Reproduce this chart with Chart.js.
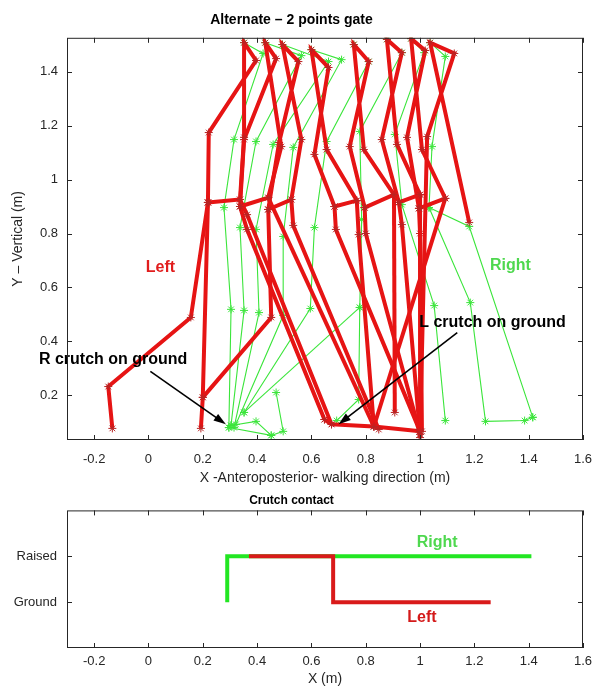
<!DOCTYPE html>
<html>
<head>
<meta charset="utf-8">
<script src="https://cdn.jsdelivr.net/npm/chart.js@4.4.0/dist/chart.umd.min.js"></script>
<style>
  html, body { margin: 0; padding: 0; background: #fff; }
  canvas { display: block; }
</style>
</head>
<body>
<canvas id="gaitChart" width="595" height="492"></canvas>
<canvas id="contactChart" width="595" height="196"></canvas>
<script>
// Stick figure frames (x, y in metres)
const leftLoops = [
  [[0.219,0.915],[0.222,1.174],[0.396,1.441],[0.352,1.507],[0.352,1.156],[0.337,0.926],[0.219,0.915]],
  [[0.337,0.900],[0.352,1.148],[0.470,1.448],[0.430,1.507],[0.489,1.122],[0.441,0.933],[0.337,0.900]],
  [[0.441,0.889],[0.481,1.137],[0.552,1.437],[0.493,1.500],[0.563,1.148],[0.526,0.926],[0.441,0.889]],
  [[0.685,0.900],[0.611,1.093],[0.663,1.415],[0.600,1.481],[0.656,1.111],[0.767,0.922],[0.685,0.900]],
  [[0.796,0.896],[0.741,1.122],[0.811,1.437],[0.756,1.500],[0.793,1.111],[0.904,0.944],[0.796,0.896]],
  [[0.922,0.915],[0.859,1.148],[0.933,1.470],[0.878,1.519],[0.915,1.130],[1.000,0.944],[0.922,0.915]],
  [[0.996,0.893],[0.952,1.156],[1.019,1.478],[0.967,1.522],[1.007,1.111],[1.093,0.930],[0.996,0.893]],
  [[1.000,0.067],[1.026,1.159],[1.126,1.467],[1.037,1.507],[1.181,0.841]]
];
const leftLegs = [
  [[-0.133,0.078],[-0.148,0.233],[0.156,0.489],[0.219,0.915]],
  [[0.193,0.078],[0.200,0.193],[0.219,0.915]],
  [[0.200,0.193],[0.452,0.489],[0.441,0.889]],
  [[0.337,0.926],[0.363,0.870],[0.674,0.093]],
  [[0.337,0.900],[0.363,0.815],[0.648,0.111]],
  [[0.441,0.933],[0.830,0.085]],
  [[0.526,0.926],[0.533,0.830],[0.848,0.074]],
  [[0.685,0.900],[0.690,0.815],[1.000,0.067]],
  [[0.767,0.922],[0.774,0.796],[0.830,0.085]],
  [[0.796,0.896],[0.800,0.800],[0.996,0.074]],
  [[0.904,0.944],[0.907,0.137]],
  [[0.922,0.915],[0.933,0.833],[1.000,0.056]],
  [[1.000,0.944],[1.000,0.044]],
  [[0.996,0.893],[1.000,0.800],[1.007,0.067]],
  [[1.093,0.930],[0.830,0.085]],
  [[0.648,0.111],[0.674,0.093],[0.830,0.085],[1.000,0.067]]
];
const rightBody = [
  [[0.352,1.507],[0.422,1.467],[0.315,1.148],[0.278,0.896],[0.304,0.519],[0.296,0.081]],
  [[0.430,1.507],[0.563,1.459],[0.396,1.141],[0.337,0.822],[0.352,0.515],[0.304,0.089]],
  [[0.493,1.500],[0.663,1.437],[0.459,1.130],[0.396,0.815],[0.407,0.507],[0.315,0.081]],
  [[0.600,1.481],[0.711,1.444],[0.533,1.119],[0.496,0.789],[0.496,0.496],[0.322,0.093]],
  [[0.756,1.500],[0.811,1.437],[0.656,1.141],[0.611,0.822],[0.596,0.522],[0.352,0.137]],
  [[0.878,1.519],[0.933,1.470],[0.778,1.178],[0.785,0.852],[0.778,0.526],[0.774,0.185],[0.693,0.107]],
  [[0.967,1.522],[1.015,1.470],[0.907,1.167],[0.933,0.907],[1.052,0.533],[1.093,0.107]],
  [[1.037,1.507],[1.093,1.456],[1.044,1.122],[1.033,0.896],[1.185,0.544],[1.241,0.104],[1.385,0.107],[1.415,0.119]]
];
const rightFeet = [
  [[1.033,0.896],[1.181,0.826],[1.415,0.119]],
  [[0.296,0.081],[0.452,0.052],[0.496,0.067],[0.470,0.211]],
  [[0.304,0.089],[0.396,0.104],[0.452,0.052]],
  [[0.352,0.137],[0.778,0.526]]
];

const xTicks = [-0.2, 0, 0.2, 0.4, 0.6, 0.8, 1, 1.2, 1.4, 1.6];
const yTicks = [0.2, 0.4, 0.6, 0.8, 1, 1.2, 1.4];

// Crutch contact (0 = Ground, 1 = Raised)
const contactTicks = [0, 1];
const contactLabels = ['Ground', 'Raised'];
const rightContactX = [0.29, 0.29, 1.41];
const rightContactY = [0, 1, 1];
const leftContactX = [0.37, 0.68, 0.68, 1.26];
const leftContactY = [1, 1, 0, 0];

const RED = '#e61414';
const RED_STAR = '#b82424';
const GREEN = '#3be53b';
const FONT = "'Liberation Sans', Arial, sans-serif";
const INK = '#262626';

const gaitNotes = [
  { text: 'Left', x: 0.044, y: 0.674, color: '#e11d1d', size: 16 },
  { text: 'Right', x: 1.333, y: 0.681, color: '#4fd84f', size: 16 },
  { text: 'R crutch on ground', x: -0.13, y: 0.333, color: '#000', size: 16 },
  { text: 'L crutch on ground', x: 1.267, y: 0.470, color: '#000', size: 16 }
];
const gaitArrows = [
  { from: [0.007, 0.289], to: [0.285, 0.093] },
  { from: [1.137, 0.433], to: [0.700, 0.093] }
];
const contactNotes = [
  { text: 'Right', x: 1.063, y: 1.30, color: '#4fd84f', size: 16 },
  { text: 'Left', x: 1.007, y: -0.34, color: '#d41a1a', size: 16 }
];

const toPoints = path => path.map(p => ({ x: p[0], y: p[1] }));

function pathSet(path, color, width, starColor) {
  return {
    data: toPoints(path),
    showLine: true,
    borderColor: color,
    borderWidth: width,
    pointStyle: 'star',
    pointRadius: 4,
    pointBorderWidth: 1,
    pointBorderColor: starColor,
    pointBackgroundColor: starColor,
    fill: false
  };
}

// MATLAB-like box with inward ticks on every side
const frameBox = {
  id: 'frameBox',
  afterDraw(chart, args, opts) {
    const { ctx, chartArea: a, scales: { x, y } } = chart;
    const len = opts.len || 5;
    ctx.save();
    ctx.strokeStyle = INK;
    ctx.lineWidth = 1;
    ctx.strokeRect(a.left + 0.5, a.top + 0.5, a.right - a.left - 1, a.bottom - a.top - 1);
    ctx.beginPath();
    x.ticks.forEach(t => {
      const px = Math.round(x.getPixelForValue(t.value)) + 0.5;
      ctx.moveTo(px, a.bottom); ctx.lineTo(px, a.bottom - len);
      ctx.moveTo(px, a.top); ctx.lineTo(px, a.top + len);
    });
    y.ticks.forEach(t => {
      const py = Math.round(y.getPixelForValue(t.value)) + 0.5;
      ctx.moveTo(a.left, py); ctx.lineTo(a.left + len, py);
      ctx.moveTo(a.right, py); ctx.lineTo(a.right - len, py);
    });
    ctx.stroke();
    ctx.restore();
  }
};

// Text labels and arrows placed in data coordinates
const notes = {
  id: 'notes',
  afterDatasetsDraw(chart, args, opts) {
    const { ctx, scales: { x, y } } = chart;
    ctx.save();
    (opts.arrows || []).forEach(ar => {
      const x0 = x.getPixelForValue(ar.from[0]), y0 = y.getPixelForValue(ar.from[1]);
      const x1 = x.getPixelForValue(ar.to[0]), y1 = y.getPixelForValue(ar.to[1]);
      const ang = Math.atan2(y1 - y0, x1 - x0);
      const head = 13;
      ctx.strokeStyle = '#000';
      ctx.fillStyle = '#000';
      ctx.lineWidth = 1.6;
      ctx.beginPath();
      ctx.moveTo(x0, y0);
      ctx.lineTo(x1 - Math.cos(ang) * head * 0.8, y1 - Math.sin(ang) * head * 0.8);
      ctx.stroke();
      ctx.beginPath();
      ctx.moveTo(x1, y1);
      ctx.lineTo(x1 - head * Math.cos(ang - 0.32), y1 - head * Math.sin(ang - 0.32));
      ctx.lineTo(x1 - head * Math.cos(ang + 0.32), y1 - head * Math.sin(ang + 0.32));
      ctx.closePath();
      ctx.fill();
    });
    (opts.labels || []).forEach(n => {
      ctx.font = `bold ${n.size}px ${FONT}`;
      ctx.fillStyle = n.color;
      ctx.textAlign = 'center';
      ctx.textBaseline = 'middle';
      ctx.fillText(n.text, x.getPixelForValue(n.x), y.getPixelForValue(n.y));
    });
    ctx.restore();
  }
};

const tickFmt = v => String(Math.round(v * 10) / 10);
// grid hidden, but tickLength still spaces the labels off the box
const gap = len => ({ display: false, drawTicks: true, tickLength: len });

const gaitSets = [
  ...leftLoops.map(p => pathSet(p, RED, 4, RED_STAR)),
  ...leftLegs.map(p => pathSet(p, RED, 4, RED_STAR)),
  ...rightBody.map(p => pathSet(p, GREEN, 1.1, GREEN)),
  ...rightFeet.map(p => pathSet(p, GREEN, 1.1, GREEN))
];

new Chart(document.getElementById('gaitChart'), {
  type: 'scatter',
  data: { datasets: gaitSets },
  options: {
    responsive: false,
    animation: false,
    events: [],
    layout: { padding: { top: 6, right: 12, left: 0, bottom: 0 } },
    plugins: {
      legend: { display: false },
      tooltip: { enabled: false },
      title: {
        display: true,
        text: 'Alternate \u2013 2 points gate',
        color: '#000',
        font: { family: FONT, size: 14, weight: 'bold' },
        padding: { top: 6, bottom: 9 }
      },
      frameBox: { len: 5 },
      notes: { labels: gaitNotes, arrows: gaitArrows }
    },
    scales: {
      x: {
        type: 'linear',
        min: -0.3,
        max: 1.6,
        grid: gap(12),
        border: { display: false },
        afterBuildTicks: s => { s.ticks = xTicks.map(v => ({ value: v })); },
        afterFit: s => { s.height = 52; },
        ticks: { color: INK, padding: 0, maxRotation: 0, font: { family: FONT, size: 13 }, callback: tickFmt },
        title: {
          display: true,
          text: 'X -Anteroposterior- walking direction (m)',
          color: INK,
          font: { family: FONT, size: 14 },
          padding: { top: 0, bottom: 5 }
        }
      },
      y: {
        type: 'linear',
        min: 0.035,
        max: 1.525,
        grid: gap(9),
        border: { display: false },
        afterBuildTicks: s => { s.ticks = yTicks.map(v => ({ value: v })); },
        afterFit: s => { s.width = 67; },
        ticks: { color: INK, padding: 0, font: { family: FONT, size: 13 }, callback: tickFmt },
        title: {
          display: true,
          text: 'Y \u2013 Vertical (m)',
          color: INK,
          font: { family: FONT, size: 14 },
          padding: { top: 10, bottom: 0 }
        }
      }
    }
  },
  plugins: [frameBox, notes]
});

const zip = (xs, ys) => xs.map((v, i) => ({ x: v, y: ys[i] }));

new Chart(document.getElementById('contactChart'), {
  type: 'scatter',
  data: {
    datasets: [
      { data: zip(leftContactX, leftContactY), showLine: true, borderColor: '#d91a1a', borderWidth: 4, pointRadius: 0, fill: false },
      { data: zip(rightContactX, rightContactY), showLine: true, borderColor: '#22e622', borderWidth: 4, pointRadius: 0, fill: false }
    ]
  },
  options: {
    responsive: false,
    animation: false,
    events: [],
    layout: { padding: { top: 1, right: 12, left: 0, bottom: 0 } },
    plugins: {
      legend: { display: false },
      tooltip: { enabled: false },
      title: {
        display: true,
        text: 'Crutch contact',
        color: '#000',
        font: { family: FONT, size: 12, weight: 'bold' },
        padding: { top: 0, bottom: 3 }
      },
      frameBox: { len: 5 },
      notes: { labels: contactNotes }
    },
    scales: {
      x: {
        type: 'linear',
        min: -0.3,
        max: 1.6,
        grid: gap(6),
        border: { display: false },
        afterBuildTicks: s => { s.ticks = xTicks.map(v => ({ value: v })); },
        afterFit: s => { s.height = 40; },
        ticks: { color: INK, padding: 0, maxRotation: 0, font: { family: FONT, size: 13 }, callback: tickFmt },
        title: {
          display: true,
          text: 'X (m)',
          color: INK,
          font: { family: FONT, size: 14 },
          padding: { top: 0, bottom: 0 }
        }
      },
      y: {
        type: 'linear',
        min: -1,
        max: 2,
        grid: gap(10),
        border: { display: false },
        afterBuildTicks: s => { s.ticks = contactTicks.map(v => ({ value: v })); },
        afterFit: s => { s.width = 67; },
        ticks: {
          color: INK,
          padding: 0,
          font: { family: FONT, size: 13 },
          callback: v => contactLabels[contactTicks.indexOf(v)]
        }
      }
    }
  },
  plugins: [frameBox, notes]
});
</script>
</body>
</html>
